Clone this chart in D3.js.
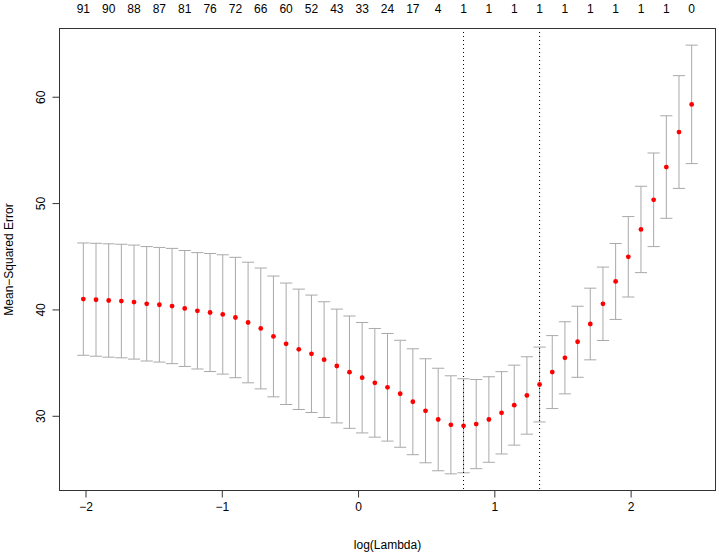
<!DOCTYPE html>
<html>
<head>
<meta charset="utf-8">
<script src="https://cdn.jsdelivr.net/npm/d3@7"></script>
<style>
  html, body { margin: 0; padding: 0; background: #fff; }
  svg { display: block; }
  text { font-family: "Liberation Sans", Arial, Helvetica, sans-serif; }
</style>
</head>
<body>
<svg id="chart" width="719" height="556"></svg>
<script>
// log(lambda) for each fitted lambda
const logLambda = [-2.016, -1.923, -1.830, -1.737, -1.644, -1.551, -1.458, -1.365, -1.272, -1.179,
  -1.086, -0.993, -0.900, -0.807, -0.714, -0.621, -0.528, -0.435, -0.342, -0.249,
  -0.156, -0.063, 0.030, 0.123, 0.216, 0.309, 0.402, 0.495, 0.588, 0.681,
  0.774, 0.867, 0.960, 1.053, 1.146, 1.239, 1.332, 1.425, 1.518, 1.611,
  1.704, 1.797, 1.890, 1.983, 2.076, 2.169, 2.262, 2.355, 2.448];
// mean cross-validated error
const cvm = [40.97, 40.91, 40.84, 40.79, 40.69, 40.53, 40.44, 40.32, 40.09, 39.87,
  39.71, 39.53, 39.24, 38.77, 38.21, 37.46, 36.77, 36.25, 35.83, 35.28,
  34.68, 34.10, 33.58, 33.10, 32.68, 32.07, 31.32, 30.47, 29.65, 29.15,
  29.06, 29.22, 29.65, 30.28, 31.00, 31.91, 32.94, 34.11, 35.45, 36.96,
  38.63, 40.53, 42.63, 44.95, 47.52, 50.31, 53.39, 56.68, 59.28];
// standard error of cv error
const cvsd = [5.28, 5.31, 5.33, 5.34, 5.36, 5.38, 5.39, 5.42, 5.45, 5.47,
  5.55, 5.61, 5.66, 5.67, 5.68, 5.68, 5.71, 5.66, 5.52, 5.44,
  5.35, 5.28, 5.19, 5.11, 5.06, 5.03, 4.98, 4.89, 4.82, 4.61,
  4.42, 4.19, 4.02, 3.87, 3.76, 3.64, 3.52, 3.43, 3.39, 3.34,
  3.37, 3.45, 3.57, 3.78, 4.06, 4.40, 4.82, 5.30, 5.57];
// number of non-zero coefficients (labels shown on top axis, every second lambda)
const nzeroLabels = ["91", "90", "88", "87", "81", "76", "72", "66", "60", "52", "43", "33", "24",
  "17", "4", "1", "1", "1", "1", "1", "1", "1", "1", "1", "0"];
const lambdaMinLog = 0.774;
const lambda1seLog = 1.332;
const xTicks = [-2, -1, 0, 1, 2];
const yTicks = [30, 40, 50, 60];

const svg = d3.select("#chart");
const L = 59, R = 716, T = 28, B = 491;

const data = logLambda.map((x, i) => ({ x, m: cvm[i], up: cvm[i] + cvsd[i], lo: cvm[i] - cvsd[i] }));

function pad(ext) { const d = (ext[1] - ext[0]) * 0.04; return [ext[0] - d, ext[1] + d]; }
const xs = d3.scaleLinear().domain(pad(d3.extent(logLambda))).range([L, R]);
const yExt = [d3.min(data, d => d.lo), d3.max(data, d => d.up)];
const ys = d3.scaleLinear().domain(pad(yExt)).range([B, T]);

// error bars
const barw = (d3.max(logLambda) - d3.min(logLambda)) * 0.01;
const eb = svg.append("g").attr("stroke", "#A9A9A9").attr("stroke-width", 1).attr("fill", "none");
data.forEach(d => {
  eb.append("line").attr("x1", xs(d.x)).attr("x2", xs(d.x)).attr("y1", ys(d.up)).attr("y2", ys(d.lo));
  eb.append("line").attr("x1", xs(d.x - barw)).attr("x2", xs(d.x + barw)).attr("y1", ys(d.up)).attr("y2", ys(d.up));
  eb.append("line").attr("x1", xs(d.x - barw)).attr("x2", xs(d.x + barw)).attr("y1", ys(d.lo)).attr("y2", ys(d.lo));
});

// points
svg.append("g").selectAll("circle").data(data).join("circle")
  .attr("cx", d => xs(d.x)).attr("cy", d => ys(d.m)).attr("r", 2.4).attr("fill", "#FF0000");

// dotted vertical lines
[lambdaMinLog, lambda1seLog].forEach(v => {
  svg.append("line").attr("x1", xs(v)).attr("x2", xs(v)).attr("y1", T).attr("y2", B)
    .attr("stroke", "#000").attr("stroke-width", 1).attr("stroke-dasharray", "1,3");
});

// frame
svg.append("rect").attr("x", L + 0.5).attr("y", T + 0.5).attr("width", R - L - 1).attr("height", B - T - 1)
  .attr("fill", "none").attr("stroke", "#333").attr("stroke-width", 1);

// x axis
const xAxis = d3.axisBottom(xs).tickValues(xTicks).tickSize(7).tickPadding(5)
  .tickFormat(d => d < 0 ? "\u2212" + Math.abs(d) : String(d));
const gx = svg.append("g").attr("transform", `translate(0,${B - 0.5})`).call(xAxis);
gx.select(".domain").remove();
gx.selectAll("line").attr("stroke", "#333");
gx.selectAll("text").attr("font-size", 12).attr("fill", "#000")
  .attr("font-family", "'Liberation Sans', Arial, sans-serif");

// y axis
const yAxis = d3.axisLeft(ys).tickValues(yTicks).tickSize(7).tickFormat(d3.format("d"));
const gy = svg.append("g").attr("transform", `translate(${L + 0.5},0)`).call(yAxis);
gy.select(".domain").remove();
gy.selectAll("line").attr("stroke", "#333");
gy.selectAll("text").attr("font-size", 12).attr("fill", "#000")
  .attr("font-family", "'Liberation Sans', Arial, sans-serif")
  .attr("x", null).attr("dy", null)
  .attr("text-anchor", "middle")
  .attr("transform", "translate(-15,0) rotate(-90)");

// top axis labels (number of non-zero coefs)
svg.append("g").selectAll("text").data(nzeroLabels).join("text")
  .attr("x", (d, i) => xs(logLambda[i * 2])).attr("y", 13)
  .attr("text-anchor", "middle").attr("font-size", 12).attr("fill", "#000")
  .text(d => d);

// axis titles
svg.append("text").attr("x", (L + R) / 2).attr("y", 549).attr("text-anchor", "middle")
  .attr("font-size", 12).attr("fill", "#000").text("log(Lambda)");
svg.append("text").attr("transform", `translate(13,${(T + B) / 2}) rotate(-90)`)
  .attr("text-anchor", "middle").attr("font-size", 12).attr("fill", "#000").text("Mean\u2212Squared Error");
</script>
</body>
</html>
